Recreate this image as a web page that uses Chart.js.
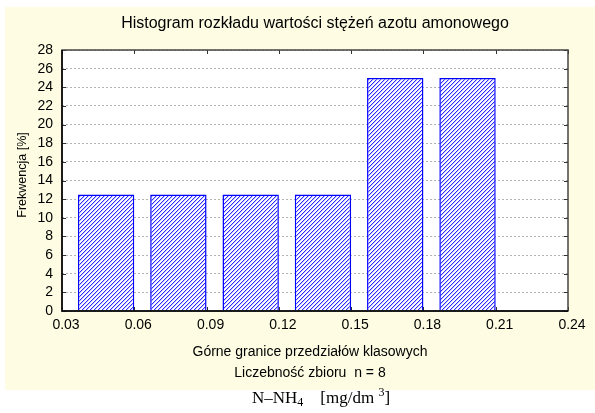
<!DOCTYPE html>
<html>
<head>
<meta charset="utf-8">
<script src="https://cdn.jsdelivr.net/npm/chart.js@4.4.0/dist/chart.umd.min.js"></script>
<style>
  html, body { margin: 0; padding: 0; background: #fff; }
</style>
</head>
<body>
<canvas id="histChart" width="595" height="413"></canvas>
<script>
// class upper bounds (mg/dm3) and frequency (%)
var upperBounds = [0.06, 0.09, 0.12, 0.15, 0.18, 0.21];
var frequency = [12.5, 12.5, 12.5, 12.5, 25, 25];
var xTickValues = [0.03, 0.06, 0.09, 0.12, 0.15, 0.18, 0.21, 0.24];
var yTickValues = [0, 2, 4, 6, 8, 10, 12, 14, 16, 18, 20, 22, 24, 26, 28];
var binWidth = 0.03;

var chartTitle = 'Histogram rozkładu wartości stężeń azotu amonowego';
var xTitle = 'Górne granice przedziałów klasowych';
var countLabel = 'Liczebność zbioru  n = 8';
var yTitle = 'Frekwencja [%]';

var cream = '#fefde3';
var blue = '#0000ff';

// blue "/" hatching on white, drawn pixel by pixel so it stays crisp
function makeHatch() {
  var s = 4;
  var c = document.createElement('canvas');
  c.width = s; c.height = s;
  var g = c.getContext('2d');
  g.fillStyle = '#fff';
  g.fillRect(0, 0, s, s);
  for (var i = 0; i < s; i++) {
    g.fillStyle = '#2a2aff';
    g.fillRect(i, s - 1 - i, 1, 1);
    g.fillStyle = '#c4c4ff';
    g.fillRect((i + 1) % s, s - 1 - i, 1, 1);
  }
  return g.createPattern(c, 'repeat');
}

var ctx = document.getElementById('histChart').getContext('2d');

var backgroundPlugin = {
  id: 'bg',
  beforeDraw: function(chart) {
    var c = chart.ctx;
    c.save();
    c.fillStyle = '#fff';
    c.fillRect(0, 0, chart.width, chart.height);
    c.fillStyle = cream;
    c.fillRect(5, 7, chart.width - 5, 383);
    c.fillStyle = '#fff';
    var a = chart.chartArea;
    c.fillRect(a.left, a.top, a.right - a.left, a.bottom - a.top);
    c.restore();
  }
};

var framePlugin = {
  id: 'frame',
  afterDatasetsDraw: function(chart) {
    var c = chart.ctx, a = chart.chartArea;
    var xs = chart.scales.x, ys = chart.scales.y;
    c.save();
    c.strokeStyle = '#333';
    c.lineWidth = 1;
    // inner tick marks on all four sides
    c.beginPath();
    yTickValues.forEach(function(v) {
      var py = Math.round(ys.getPixelForValue(v)) + 0.5;
      c.moveTo(a.left, py); c.lineTo(a.left + 4, py);
      c.moveTo(a.right, py); c.lineTo(a.right - 4, py);
    });
    xTickValues.forEach(function(v) {
      var px = Math.round(xs.getPixelForValue(v)) + 0.5;
      c.moveTo(px, a.top); c.lineTo(px, a.top + 4);
      c.moveTo(px, a.bottom); c.lineTo(px, a.bottom - 4);
    });
    c.stroke();
    c.lineWidth = 1.5;
    c.strokeStyle = '#444';
    c.strokeRect(a.left, a.top, a.right - a.left, a.bottom - a.top);
    c.strokeStyle = '#000';
    c.beginPath();
    c.moveTo(a.left, a.top); c.lineTo(a.left, a.bottom); c.lineTo(a.right, a.bottom);
    c.stroke();
    c.restore();
  }
};

var textPlugin = {
  id: 'texts',
  afterDraw: function(chart) {
    var c = chart.ctx;
    c.save();
    c.fillStyle = '#000';
    c.textAlign = 'center';
    c.textBaseline = 'middle';
    c.font = '16px "Liberation Sans", Arial, sans-serif';
    c.fillText(chartTitle, 315, 24);
    c.font = '14px "Liberation Sans", Arial, sans-serif';
    c.fillText(xTitle, 310, 352);
    c.fillText(countLabel, 310, 373);
    // y axis title
    c.save();
    c.translate(23, 175);
    c.rotate(-Math.PI / 2);
    c.font = '12.5px "Liberation Sans", Arial, sans-serif';
    c.fillText(yTitle, 0, 0);
    c.restore();
    // unit line in serif with sub/superscript
    c.textAlign = 'left';
    c.textBaseline = 'alphabetic';
    var x = 252, base = 403;
    var big = '17px "Liberation Serif", "Times New Roman", serif';
    var small = '12px "Liberation Serif", "Times New Roman", serif';
    function put(t, f, dy) {
      c.font = f;
      c.fillText(t, x, base + dy);
      x += c.measureText(t).width;
    }
    put('N\u2013NH', big, 0);
    put('4', small, 3);
    put('    [mg/dm ', big, 0);
    put('3', small, -7);
    put(']', big, 0);
    c.restore();
  }
};

new Chart(ctx, {
  type: 'bar',
  data: {
    datasets: [{
      label: 'Frekwencja',
      data: upperBounds.map(function(u, i) {
        return { x: u - binWidth * 0.39, y: frequency[i] };
      }),
      backgroundColor: makeHatch(),
      borderColor: blue,
      borderWidth: 1.5,
      barPercentage: 1,
      categoryPercentage: 0.78
    }]
  },
  options: {
    responsive: false,
    animation: false,
    devicePixelRatio: 1,
    layout: { padding: { left: 0, top: 50, right: 27, bottom: 72 } },
    plugins: {
      legend: { display: false },
      tooltip: { enabled: false },
      title: { display: false }
    },
    scales: {
      x: {
        type: 'linear',
        min: 0.03,
        max: 0.24,
        offset: false,
        afterBuildTicks: function(s) {
          s.ticks = xTickValues.map(function(v) { return { value: v }; });
        },
        afterFit: function(s) { s.height = 30; },
        grid: { display: false, drawTicks: false, offset: false },
        border: { display: false },
        ticks: {
          autoSkip: false,
          maxRotation: 0,
          padding: 6,
          labelOffset: 4,
          color: '#000',
          font: { family: '"Liberation Sans", Arial, sans-serif', size: 14 },
          callback: function(v) { return Number(v).toFixed(2); }
        }
      },
      y: {
        min: 0,
        max: 28,
        afterBuildTicks: function(s) {
          s.ticks = yTickValues.map(function(v) { return { value: v }; });
        },
        afterFit: function(s) { s.width = 62; },
        grid: { color: '#b4b4b4', lineWidth: 1, drawTicks: false },
        border: { display: false, dash: [2, 2] },
        ticks: {
          autoSkip: false,
          padding: 9,
          color: '#000',
          font: { family: '"Liberation Sans", Arial, sans-serif', size: 14 }
        }
      }
    }
  },
  plugins: [backgroundPlugin, framePlugin, textPlugin]
});
</script>
</body>
</html>
